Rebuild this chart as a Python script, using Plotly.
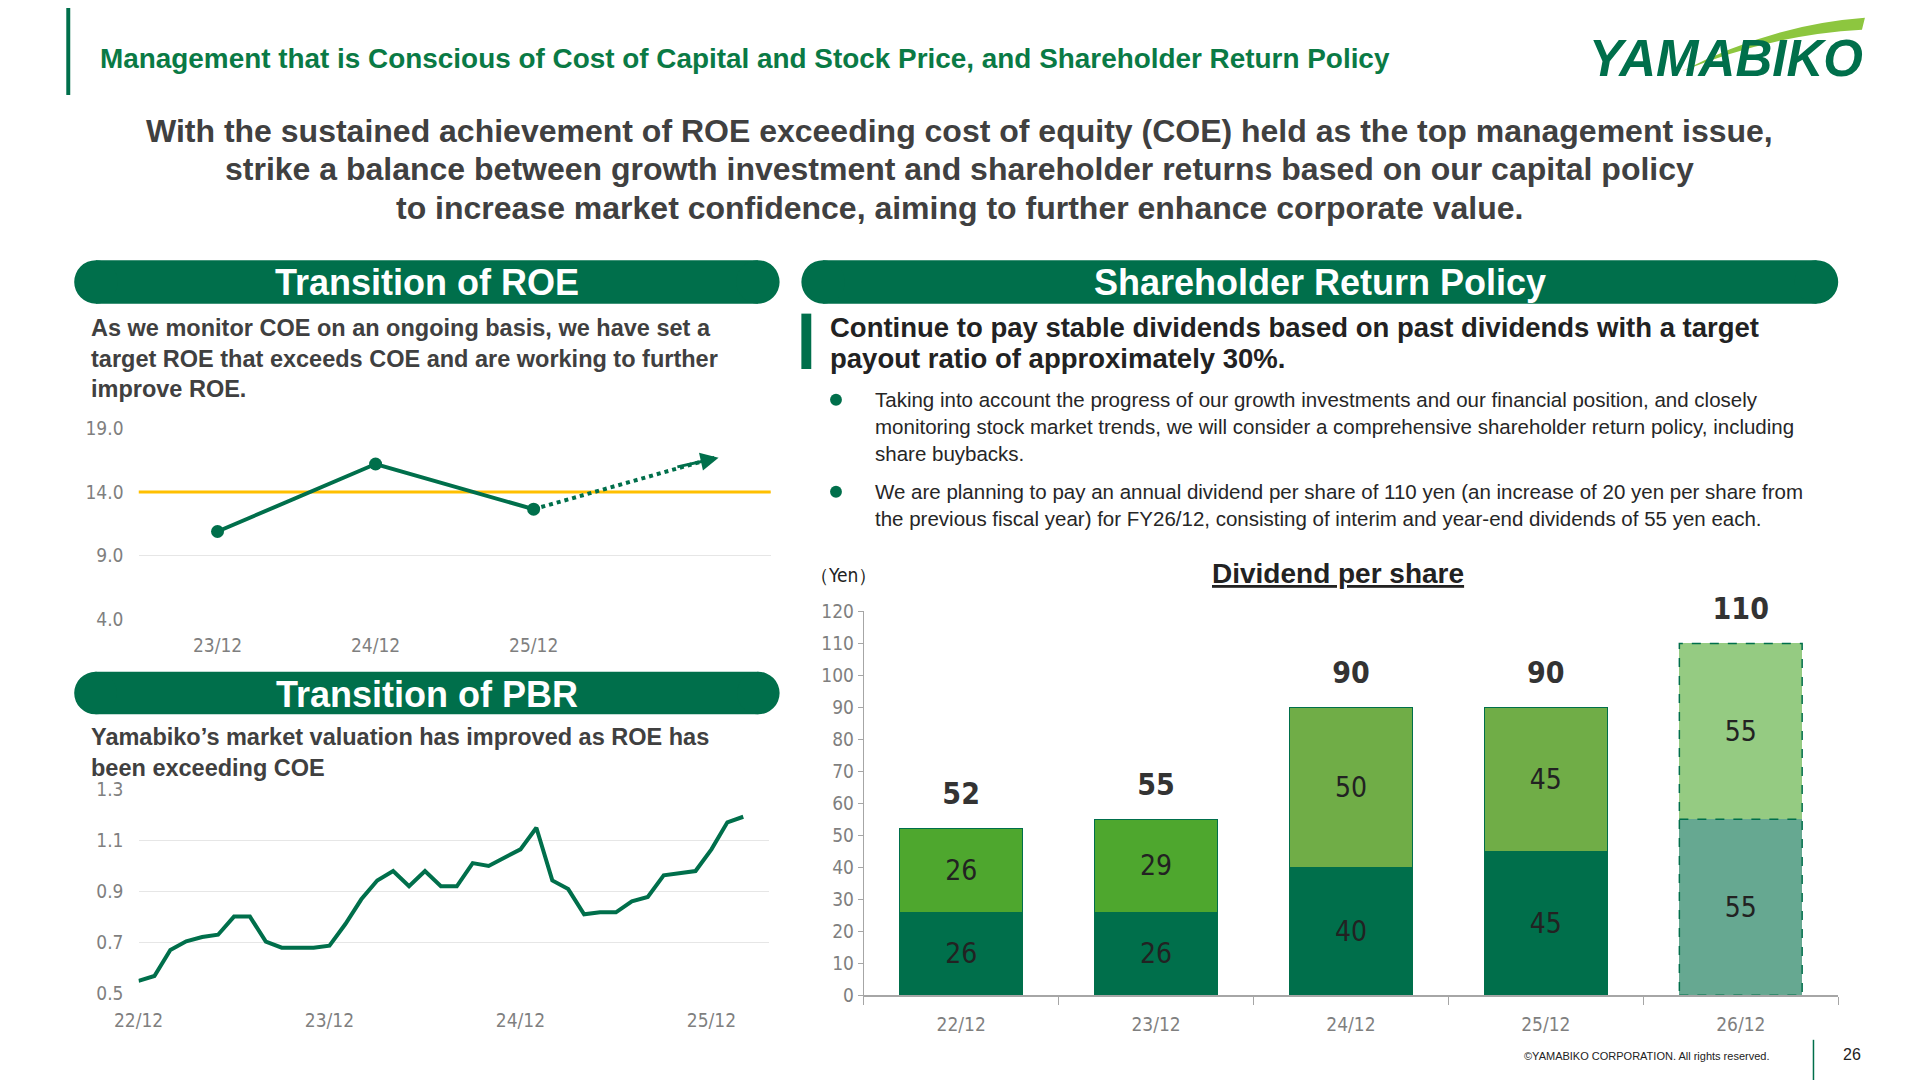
import plotly.graph_objects as go

W, H = 1920, 1080
K = 0.808 / 0.8167
def X(px): return (px * K - 8) / W
def Y(py): return 1 - (py * K - 8) / H

GREEN = "#006f4b"
NARROW = "Liberation Sans Narrow, Arial Narrow, DejaVu Sans Condensed, sans-serif"
SANS = "Liberation Sans, Arial, sans-serif"

# ROE
roe_cats = ["23/12", "24/12", "25/12", ""]
roe_vals = [10.9, 16.2, 12.65]
roe_target = [12.65, 16.7]
coe_val = 14.0

# PBR (monthly, from 22/12)
pbr_vals = [0.549, 0.568, 0.670, 0.704, 0.721, 0.730, 0.801, 0.801, 0.703, 0.679, 0.679, 0.679,
            0.687, 0.772, 0.869, 0.943, 0.980, 0.920, 0.980, 0.920, 0.920, 1.011, 1.000, 1.034,
            1.065, 1.150, 0.943, 0.909, 0.810, 0.818, 0.818, 0.861, 0.878, 0.963, 0.971, 0.980,
            1.065, 1.171, 1.193]
pbr_ticklabels = ["22/12", "23/12", "24/12", "25/12"]

# Dividend
div_cats = ["22/12", "23/12", "24/12", "25/12", "26/12"]
div_interim = [26, 26, 40, 45, 55]
div_yearend = [26, 29, 50, 45, 55]
div_total = [52, 55, 90, 90, 110]

fig = go.Figure()

fig.add_trace(go.Scatter(x=[-0.5, 3.52], y=[coe_val, coe_val], mode="lines",
                         line=dict(color="#ffc000", width=3), xaxis="x", yaxis="y", hoverinfo="skip", cliponaxis=False))
fig.add_trace(go.Scatter(x=[0, 1, 2], y=roe_vals, mode="lines+markers",
                         line=dict(color=GREEN, width=4), marker=dict(size=13, color=GREEN),
                         xaxis="x", yaxis="y"))
fig.add_trace(go.Scatter(x=[2, 3.15], y=roe_target, mode="lines",
                         line=dict(color=GREEN, width=4, dash="dot"), xaxis="x", yaxis="y"))

fig.add_trace(go.Scatter(x=list(range(len(pbr_vals))), y=pbr_vals, mode="lines",
                         line=dict(color=GREEN, width=4), xaxis="x2", yaxis="y2"))

xs = list(range(len(div_cats)))
lw = [1, 1, 1, 1, 0]
fig.add_trace(go.Bar(x=xs, y=div_interim, width=0.63,
                     marker=dict(color=[GREEN, GREEN, GREEN, GREEN, "#66a891"], line=dict(color=GREEN, width=lw)),
                     text=[str(v) for v in div_interim], textposition="inside", insidetextanchor="middle",
                     textfont=dict(family=NARROW, size=28, color="#222"), constraintext="none",
                     xaxis="x3", yaxis="y3"))
fig.add_trace(go.Bar(x=xs, y=div_yearend, width=0.63,
                     marker=dict(color=["#4ea72e", "#4ea72e", "#70ad47", "#70ad47", "#95cb82"], line=dict(color=GREEN, width=lw)),
                     text=[str(v) for v in div_yearend], textposition="inside", insidetextanchor="middle",
                     textfont=dict(family=NARROW, size=28, color="#222"), constraintext="none",
                     xaxis="x3", yaxis="y3"))
i = 4
hw = 0.315
fig.add_trace(go.Scatter(x=[i - hw, i + hw, i + hw, i - hw, i - hw], y=[0, 0, div_total[i], div_total[i], 0],
                         mode="lines", line=dict(color=GREEN, width=1.5, dash="dash"), xaxis="x3", yaxis="y3"))
fig.add_trace(go.Scatter(x=[i - hw, i + hw], y=[div_interim[i]] * 2,
                         mode="lines", line=dict(color=GREEN, width=1.5, dash="dash"), xaxis="x3", yaxis="y3"))
fig.add_trace(go.Scatter(x=xs, y=[t + 10 for t in div_total], mode="text", text=[str(t) for t in div_total],
                         textposition="middle center", cliponaxis=False,
                         textfont=dict(family=NARROW, size=30, color="#333", weight="bold"), xaxis="x3", yaxis="y3"))

tickfont = dict(family=NARROW, size=19, color="#7f7f7f")
fig.update_layout(
    width=W, height=H, margin=dict(l=0, r=0, t=0, b=0, autoexpand=False), showlegend=False,
    paper_bgcolor="white", plot_bgcolor="white", barmode="stack",
    xaxis=dict(domain=[X(140), X(779)], range=[-0.5, 3.5], tickvals=[0, 1, 2, 3], ticktext=roe_cats,
               showgrid=False, zeroline=False, showline=False, tickfont=tickfont, ticklabelstandoff=13),
    yaxis=dict(domain=[Y(626), Y(433)], range=[4, 19], tickvals=[4, 9, 14, 19], tickformat=".1f",
               gridcolor="#e6e6e6", zeroline=False, tickfont=tickfont, ticklabelstandoff=14),
    xaxis2=dict(domain=[X(140), X(777)], range=[0, 39.6], tickvals=[0, 12, 24, 36], ticktext=pbr_ticklabels,
                showgrid=False, zeroline=False, tickfont=tickfont, anchor="y2", ticklabelstandoff=14),
    yaxis2=dict(domain=[Y(1004), Y(798)], range=[0.5, 1.3], tickvals=[0.5, 0.7, 0.9, 1.1, 1.3], tickformat=".1f",
                gridcolor="#e6e6e6", zeroline=False, tickfont=tickfont, anchor="x2", ticklabelstandoff=14),
    xaxis3=dict(domain=[X(873), X(1858)], range=[-0.5, 4.5], tickvals=xs, ticktext=div_cats, ticks="",
                showgrid=False, zeroline=False, showline=True, linecolor="#a6a6a6", linewidth=2,
                minor=dict(ticks="outside", tick0=-0.5, dtick=1, ticklen=8, tickcolor="#a6a6a6"),
                tickfont=tickfont, anchor="y3", ticklabelstandoff=11),
    yaxis3=dict(domain=[Y(1006), Y(618)], range=[0, 120], dtick=10, showgrid=False, zeroline=False,
                showline=True, linecolor="#a6a6a6", ticks="outside", ticklen=5, tickcolor="#a6a6a6",
                tickfont=tickfont, anchor="x3"),
)

shapes = []
ann = []
ann.append(dict(x=3.17, y=roe_target[1], ax=2.9, ay=roe_target[1] - 0.75, xref="x", yref="y",
                axref="x", ayref="y", showarrow=True, arrowhead=2, arrowsize=1.2, arrowwidth=3,
                arrowcolor=GREEN, text=""))

def T(x, y, text, font, xanchor="left", align="left"):
    ann.append(dict(x=X(x), y=Y(y), xref="paper", yref="paper", xanchor=xanchor, yanchor="middle",
                    showarrow=False, align=align, text=text, font=font))

shapes.append(dict(type="rect", xref="paper", yref="paper", x0=X(67), x1=X(71), y0=Y(96), y1=1,
                   fillcolor=GREEN, line_width=0))
T(99, 59, "<b>Management that is Conscious of Cost of Capital and Stock Price, and Shareholder Return Policy</b>",
  dict(family=SANS, size=27.9, color="#0a7a45"))
T(1745, 59, "<b><i>YAMABIKO</i></b>", dict(family=SANS, size=51, color=GREEN), xanchor="center")
shapes.append(dict(type="path", xref="paper", yref="paper",
                   path=f"M {X(1700)},{Y(72)} Q {X(1790)},{Y(25)} {X(1885)},{Y(18)} L {X(1882)},{Y(30)} Q {X(1790)},{Y(35)} {X(1700)},{Y(72)} Z",
                   fillcolor="#8dc63f", line_width=0))
for j, line in enumerate(["With the sustained achievement of ROE exceeding cost of equity (COE) held as the top management issue,",
                          "strike a balance between growth investment and shareholder returns based on our capital policy",
                          "to increase market confidence, aiming to further enhance corporate value."]):
    T(970, 132 + 39 * j, f"<b>{line}</b>", dict(family=SANS, size=32, color="#404040"), xanchor="center")

def pill(x0, x1, y0, y1, label, size=36):
    r = (y1 - y0) / 2
    shapes.append(dict(type="rect", xref="paper", yref="paper", x0=X(x0 + r), x1=X(x1 - r), y0=Y(y1), y1=Y(y0),
                       fillcolor=GREEN, line_width=0))
    for cx in (x0 + r, x1 - r):
        shapes.append(dict(type="circle", xref="paper", yref="paper", x0=X(cx - r), x1=X(cx + r), y0=Y(y1), y1=Y(y0),
                           fillcolor=GREEN, line_width=0))
    T((x0 + x1) / 2, (y0 + y1) / 2 + 1, f"<b>{label}</b>", dict(family=SANS, size=size, color="white"), xanchor="center")

pill(75, 788, 263, 307, "Transition of ROE")
pill(75, 788, 679, 722, "Transition of PBR")
pill(810, 1858, 263, 307, "Shareholder Return Policy")

T(90, 362, "<b>As we monitor COE on an ongoing basis, we have set a<br>target ROE that exceeds COE and are working to further<br>improve ROE.</b>",
  dict(family=SANS, size=23.5, color="#404040"))
T(90, 761, "<b>Yamabiko’s market valuation has improved as ROE has<br>been exceeding COE</b>",
  dict(family=SANS, size=23.5, color="#404040"))

shapes.append(dict(type="rect", xref="paper", yref="paper", x0=X(810), x1=X(820), y0=Y(373), y1=Y(317),
                   fillcolor=GREEN, line_width=0))
T(837, 331, "<b>Continue to pay stable dividends based on past dividends with a target</b>",
  dict(family=SANS, size=27.5, color="#222"))
T(837, 362, "<b>payout ratio of approximately 30%.</b>", dict(family=SANS, size=27.5, color="#222"))
bullets = [(404, ["Taking into account the progress of our growth investments and our financial position, and closely",
                  "monitoring stock market trends, we will consider a comprehensive shareholder return policy, including",
                  "share buybacks."]),
           (497, ["We are planning to pay an annual dividend per share of 110 yen (an increase of 20 yen per share from",
                  "the previous fiscal year) for FY26/12, consisting of interim and year-end dividends of 55 yen each."])]
for yb, lines in bullets:
    shapes.append(dict(type="circle", xref="paper", yref="paper", x0=X(839), x1=X(851), y0=Y(yb + 6), y1=Y(yb - 6),
                       fillcolor=GREEN, line_width=0))
    for k, l in enumerate(lines):
        T(882, yb + 27 * k, l, dict(family=SANS, size=20.5, color="#262626"))

T(1352, 580, "<b><u>Dividend per share</u></b>", dict(family=SANS, size=28, color="#222"), xanchor="center")
T(853, 581, "（Yen）", dict(family=NARROW, size=19, color="#222"), xanchor="center")

T(1790, 1067, "©YAMABIKO CORPORATION. All rights reserved.", dict(family=SANS, size=11, color="#222"), xanchor="right")
T(1872, 1066, "26", dict(family=SANS, size=16, color="#222"), xanchor="center")
shapes.append(dict(type="line", xref="paper", yref="paper", x0=X(1833), x1=X(1833), y0=0, y1=Y(1051),
                   line=dict(color=GREEN, width=1.5)))

fig.update_layout(shapes=shapes, annotations=ann)
fig.write_html("out.html")
